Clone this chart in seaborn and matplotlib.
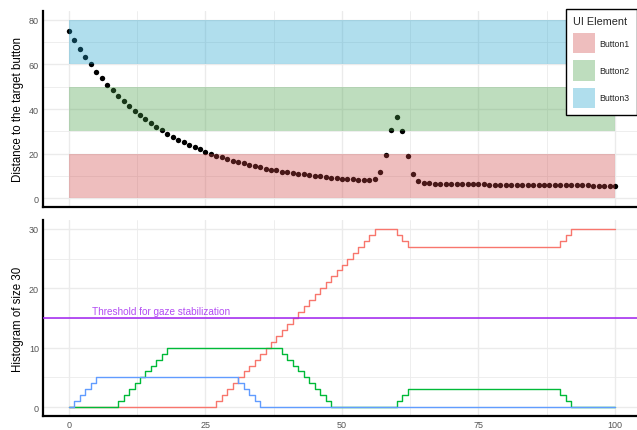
import matplotlib
matplotlib.use("Agg")
import matplotlib.pyplot as plt
import seaborn as sns
import pandas as pd
from matplotlib.patches import Patch
from matplotlib.ticker import MultipleLocator

# ---------------- data ----------------
frames = list(range(0, 101))

distance = [
    75.0, 70.8, 66.9, 63.4, 60.1, 56.8, 53.7, 50.9, 48.4, 45.8,
    43.4, 41.3, 39.2, 37.2, 35.4, 33.6, 31.9, 30.4, 28.9, 27.5,
    26.3, 25.0, 24.0, 22.9, 21.9, 20.8, 19.9, 19.1, 18.3, 17.5,
    16.8, 16.2, 15.6, 15.0, 14.4, 13.8, 13.2, 12.8, 12.4, 11.9,
    11.6, 11.3, 10.9, 10.6, 10.3, 10.0, 9.7, 9.4, 9.1, 9.0,
    8.7, 8.5, 8.4, 8.2, 8.1, 8.1, 8.5, 11.6, 19.3, 30.6,
    36.3, 30.3, 18.9, 10.9, 7.7, 6.8, 6.6, 6.5, 6.5, 6.4,
    6.4, 6.3, 6.3, 6.3, 6.2, 6.2, 6.2, 6.1, 6.1, 6.1,
    6.0, 6.0, 6.0, 6.0, 5.9, 5.9, 5.9, 5.9, 5.8, 5.8,
    5.8, 5.8, 5.7, 5.7, 5.7, 5.7, 5.6, 5.6, 5.6, 5.6,
    5.5,
]

buttons = ["Button1", "Button2", "Button3"]
band_low = [0, 30, 60]
band_high = [20, 50, 80]

hist_button1 = [
    0, 0, 0, 0, 0, 0, 0, 0, 0, 0,
    0, 0, 0, 0, 0, 0, 0, 0, 0, 0,
    0, 0, 0, 0, 0, 0, 0, 1, 2, 3,
    4, 5, 6, 7, 8, 9, 10, 11, 12, 13,
    14, 15, 16, 17, 18, 19, 20, 21, 22, 23,
    24, 25, 26, 27, 28, 29, 30, 30, 30, 30,
    29, 28, 27, 27, 27, 27, 27, 27, 27, 27,
    27, 27, 27, 27, 27, 27, 27, 27, 27, 27,
    27, 27, 27, 27, 27, 27, 27, 27, 27, 27,
    28, 29, 30, 30, 30, 30, 30, 30, 30, 30,
    30,
]
hist_button2 = [
    0, 0, 0, 0, 0, 0, 0, 0, 0, 1,
    2, 3, 4, 5, 6, 7, 8, 9, 10, 10,
    10, 10, 10, 10, 10, 10, 10, 10, 10, 10,
    10, 10, 10, 10, 10, 10, 10, 10, 10, 9,
    8, 7, 6, 5, 4, 3, 2, 1, 0, 0,
    0, 0, 0, 0, 0, 0, 0, 0, 0, 0,
    1, 2, 3, 3, 3, 3, 3, 3, 3, 3,
    3, 3, 3, 3, 3, 3, 3, 3, 3, 3,
    3, 3, 3, 3, 3, 3, 3, 3, 3, 3,
    2, 1, 0, 0, 0, 0, 0, 0, 0, 0,
    0,
]
hist_button3 = [
    0, 1, 2, 3, 4, 5, 5, 5, 5, 5,
    5, 5, 5, 5, 5, 5, 5, 5, 5, 5,
    5, 5, 5, 5, 5, 5, 5, 5, 5, 5,
    5, 4, 3, 2, 1, 0, 0, 0, 0, 0,
    0, 0, 0, 0, 0, 0, 0, 0, 0, 0,
    0, 0, 0, 0, 0, 0, 0, 0, 0, 0,
    0, 0, 0, 0, 0, 0, 0, 0, 0, 0,
    0, 0, 0, 0, 0, 0, 0, 0, 0, 0,
    0, 0, 0, 0, 0, 0, 0, 0, 0, 0,
    0, 0, 0, 0, 0, 0, 0, 0, 0, 0,
    0,
]

threshold = 15
threshold_label = "Threshold for gaze stabilization"
x_ticks = [0, 25, 50, 75, 100]

# ---------------- style ----------------
sns.set_theme(style="white")
plt.rcParams['font.family'] = ['Liberation Sans', 'DejaVu Sans']

band_colors = ["#D14545", "#459E45", "#1DA1CE"]
band_alpha = 0.35
line_colors = ["#F8766D", "#00BA38", "#619CFF"]
purple = "#A020F0"
tick_color = "#555555"
grid_color = "#EBEBEB"

W, H = 637, 431
fig = plt.figure(figsize=(W / 100, H / 100), dpi=100)
ax1 = fig.add_axes([43 / W, 1 - 208 / H, (W - 43) / W, (208 - 12) / H])
ax2 = fig.add_axes([43 / W, 1 - 417 / H, (W - 43) / W, (417 - 221) / H])

# ---------------- top panel ----------------
df_top = pd.DataFrame({"frame": frames, "distance": distance})
sns.scatterplot(data=df_top, x="frame", y="distance", ax=ax1, color="black",
                s=15, linewidth=0, zorder=2, legend=False)
for lo, hi, c in zip(band_low, band_high, band_colors):
    ax1.fill_between([frames[0], frames[-1]], lo, hi, color=c, alpha=band_alpha,
                     linewidth=0, zorder=3)

ax1.set_xlim(-4.76, 104.03)
ax1.set_ylim(-4, 84)
ax1.xaxis.set_major_locator(MultipleLocator(25))
ax1.xaxis.set_minor_locator(MultipleLocator(12.5))
ax1.yaxis.set_major_locator(MultipleLocator(20))
ax1.yaxis.set_minor_locator(MultipleLocator(10))
ax1.set_xticklabels([])
ax1.set_xlabel("")
ax1.set_ylabel("Distance to the target button", fontsize=8.3, color="black")

# ---------------- bottom panel ----------------
df_hist = pd.DataFrame({
    "frame": frames * 3,
    "count": hist_button1 + hist_button2 + hist_button3,
    "UI Element": [buttons[0]] * len(frames) + [buttons[1]] * len(frames) + [buttons[2]] * len(frames),
})
sns.lineplot(data=df_hist, x="frame", y="count", hue="UI Element",
             palette=dict(zip(buttons, line_colors)), drawstyle="steps-post",
             linewidth=1.0, ax=ax2, legend=False, zorder=3)
ax2.axhline(threshold, color=purple, linewidth=1.1, zorder=4)
ax2.text(4.2, threshold + 0.35, threshold_label, color=purple, fontsize=7.2,
         ha="left", va="bottom", alpha=0.8)

ax2.set_xlim(-4.76, 104.03)
ax2.set_ylim(-1.5, 31.5)
ax2.set_xticks(x_ticks)
ax2.set_xticklabels([str(t) for t in x_ticks])
ax2.xaxis.set_minor_locator(MultipleLocator(12.5))
ax2.yaxis.set_major_locator(MultipleLocator(10))
ax2.yaxis.set_minor_locator(MultipleLocator(5))
ax2.set_xlabel("")
ax2.set_ylabel("Histogram of size 30", fontsize=8.3, color="black")

for ax in (ax1, ax2):
    ax.set_facecolor("white")
    ax.grid(True, which="major", color=grid_color, linewidth=1.0, zorder=0)
    ax.grid(True, which="minor", color=grid_color, linewidth=0.6, zorder=0)
    ax.set_axisbelow(True)
    for side in ("top", "right"):
        ax.spines[side].set_visible(False)
    for side in ("left", "bottom"):
        ax.spines[side].set_visible(True)
        ax.spines[side].set_color("black")
        ax.spines[side].set_linewidth(1.6)
    ax.tick_params(axis="both", which="both", length=0, labelsize=6.5,
                   labelcolor=tick_color, pad=3)
    ax.yaxis.set_label_coords(-0.032, 0.5)

# ---------------- legend ----------------
handles = [Patch(facecolor=c, alpha=band_alpha, edgecolor="none", label=b)
           for b, c in zip(buttons, band_colors)]
leg = fig.legend(handles=handles, title="UI Element", loc="upper right",
                 bbox_to_anchor=(1.0, 1 - 10 / H), fontsize=6.3,
                 title_fontsize=7.8, frameon=True, fancybox=False,
                 framealpha=1, edgecolor="black", handlelength=2.5,
                 handleheight=3.3, labelspacing=0.75, handletextpad=0.6,
                 borderpad=0.8, alignment="left", borderaxespad=0)
leg.get_frame().set_linewidth(1.0)

fig.savefig("out.png", dpi=100)
